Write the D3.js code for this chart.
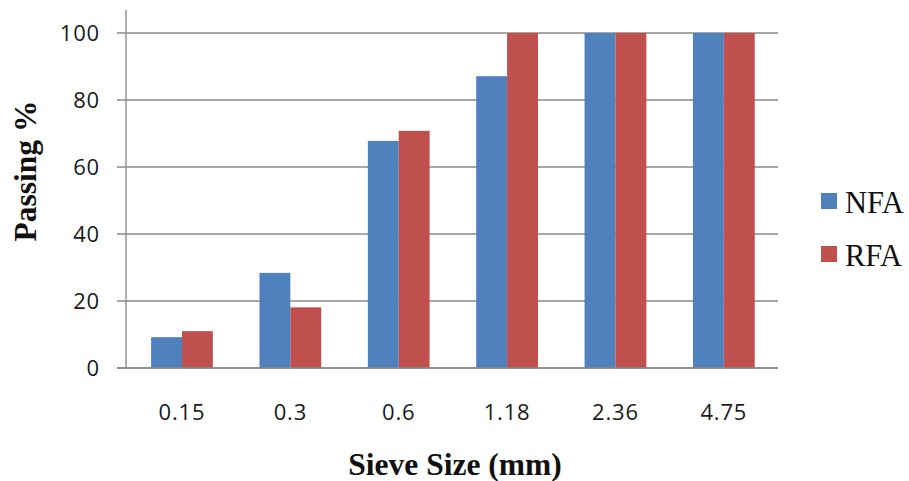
<!DOCTYPE html>
<html><head><meta charset="utf-8">
<script src="https://cdn.jsdelivr.net/npm/d3@7"></script>
<style>body{margin:0;background:#fff}</style>
</head><body><svg id="c" width="909" height="481"></svg>
<script>
const categories = ["0.15","0.3","0.6","1.18","2.36","4.75"];
const seriesNames = ["NFA","RFA"];
const nfa = [9.2, 28.4, 67.8, 87.1, 100, 100];
const rfa = [11.0, 18.1, 70.8, 100, 100, 100];
const yTicks = [0,20,40,60,80,100];
const colors = ["#4F81BD","#C0504D"];

const svg = d3.select("#c");
const L = 126, R = 778, T = 33, B = 368;
const x = d3.scaleBand().domain(categories).range([L+1.8,R]).paddingInner(0.43).paddingOuter(0.215);
const xs = d3.scaleBand().domain(seriesNames).range([0,x.bandwidth()]);
const y = d3.scaleLinear().domain([0,100]).range([B,T]);

// gridlines
svg.append("g").selectAll("line").data(yTicks).join("line")
  .attr("x1",L-9).attr("x2",R).attr("y1",d=>y(d)).attr("y2",d=>y(d))
  .attr("stroke","#8a8a8a").attr("stroke-width",1.4);
// y axis line
svg.append("line").attr("x1",L).attr("x2",L).attr("y1",y(0)).attr("y2",y(106.9))
  .attr("stroke","#8a8a8a").attr("stroke-width",1.4);

// bars
const data = categories.map((c,i)=>({c, vals:[nfa[i], rfa[i]]}));
const g = svg.append("g").selectAll("g").data(data).join("g")
  .attr("transform",d=>`translate(${x(d.c)},0)`);
g.selectAll("rect").data(d=>d.vals.map((v,j)=>({s:seriesNames[j],v,j}))).join("rect")
  .attr("x",d=>xs(d.s)).attr("width",xs.bandwidth())
  .attr("y",d=>y(d.v)).attr("height",d=>y(0)-y(d.v))
  .attr("fill",d=>colors[d.j]);

// bottom axis line over bars
svg.append("line").attr("x1",L-9).attr("x2",R).attr("y1",y(0)).attr("y2",y(0))
  .attr("stroke","#8a8a8a").attr("stroke-width",1.4);

// y tick labels
svg.append("g").selectAll("text").data(yTicks).join("text")
  .attr("x",100).attr("y",d=>y(d)).attr("dy","0.36em").attr("text-anchor","end")
  .attr("font-family","Open Sans").attr("font-size",22).attr("letter-spacing",0.8)
  .attr("fill","#1a1a1a").text(d=>d);
// x tick labels
svg.append("g").selectAll("text").data(categories).join("text")
  .attr("x",d=>x(d)+x.bandwidth()/2).attr("y",420).attr("text-anchor","middle")
  .attr("font-family","Open Sans").attr("font-size",22).attr("letter-spacing",0.8)
  .attr("fill","#1a1a1a").text(d=>d);

// axis titles
svg.append("text").attr("x",455).attr("y",475).attr("text-anchor","middle")
  .attr("font-family","Liberation Serif").attr("font-weight","bold").attr("font-size",31.5)
  .attr("fill","#111").text("Sieve Size (mm)");
svg.append("text").attr("transform","translate(36,171) rotate(-90)").attr("text-anchor","middle")
  .attr("font-family","Liberation Serif").attr("font-weight","bold").attr("font-size",31.5)
  .attr("fill","#111").text("Passing %");

// legend
const lg = svg.append("g").selectAll("g").data(seriesNames).join("g")
  .attr("transform",(d,i)=>`translate(821,${193+i*53})`);
lg.append("rect").attr("width",16).attr("height",16).attr("fill",(d,i)=>colors[i]);
lg.append("text").attr("x",24).attr("y",20).attr("font-family","Liberation Serif")
  .attr("font-size",30.5).attr("fill","#111").text(d=>d);
</script></body></html>
